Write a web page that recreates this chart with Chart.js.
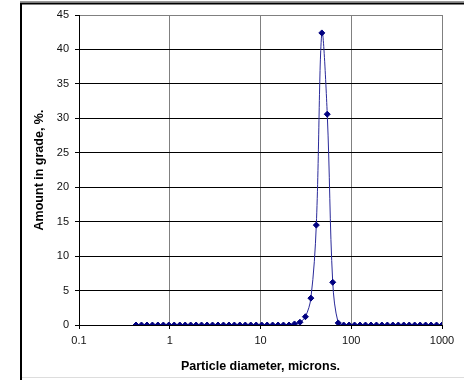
<!DOCTYPE html>
<html>
<head>
<meta charset="utf-8">
<script src="https://cdn.jsdelivr.net/npm/chart.js@4.4.1/dist/chart.umd.min.js"></script>
<style>
  html, body { margin: 0; padding: 0; background: #fff; }
  #wrap { width: 464px; height: 380px; position: relative; }
</style>
</head>
<body>
<div id="wrap"><canvas id="chart" width="464" height="380"></canvas></div>
<script>
// particle diameters, microns (log scale)
const diameters = [0.425, 0.488, 0.561, 0.644, 0.740, 0.850, 0.977, 1.12, 1.29, 1.48,
    1.70, 1.953, 2.24, 2.58, 2.96, 3.40, 3.906, 4.49, 5.15, 5.92,
    6.80, 7.81, 8.97, 10.31, 11.84, 13.6, 15.625, 17.9, 20.6, 23.7,
    27.2, 31.25, 35.9, 41.2, 47.4, 54.4, 62.5, 71.8, 82.5, 94.7,
    108.8, 125, 143.6, 164.9, 189.5, 217.6, 250, 287.2, 329.9, 378.9,
    435.3, 500, 574.3, 659.8, 757.9, 870.6, 1000];

// amount in grade, %
const amounts = [0, 0, 0, 0, 0, 0, 0, 0, 0, 0,
    0, 0, 0, 0, 0, 0, 0, 0, 0, 0,
    0, 0, 0, 0, 0, 0, 0, 0, 0, 0.15,
    0.4, 1.2, 3.9, 14.5, 42.4, 30.6, 6.2, 0.3, 0, 0,
    0, 0, 0, 0, 0, 0, 0, 0, 0, 0,
    0, 0, 0, 0, 0, 0, 0];

const xTicks = [0.1, 1, 10, 100, 1000];
const yMax = 45;
const yStep = 5;

const points = diameters.map((d, i) => ({ x: d, y: amounts[i] }));

const frame = {
    id: 'frame',
    beforeDraw(chart) {
        const c = chart.ctx;
        c.save();
        c.fillStyle = '#fff';
        c.fillRect(0, 0, chart.width, chart.height);
        c.strokeStyle = '#999';
        c.lineWidth = 1;
        c.beginPath();
        c.moveTo(20, 1.5);
        c.lineTo(chart.width, 1.5);
        c.stroke();
        c.strokeStyle = '#000';
        c.lineWidth = 2;
        c.beginPath();
        c.moveTo(21, chart.height);
        c.lineTo(21, 3.5);
        c.lineTo(chart.width, 3.5);
        c.stroke();
        c.strokeStyle = '#ddd';
        c.lineWidth = 1;
        c.beginPath();
        c.moveTo(22, chart.height - 2.5);
        c.lineTo(chart.width, chart.height - 2.5);
        c.stroke();
        c.restore();
    }
};

const ctx = document.getElementById('chart').getContext('2d');
new Chart(ctx, {
    type: 'line',
    data: {
        datasets: [{
            label: 'Amount',
            data: points,
            borderColor: '#2a2a9a',
            borderWidth: 1,
            backgroundColor: '#000080',
            pointBackgroundColor: '#000080',
            pointBorderColor: '#000080',
            pointStyle: 'rectRot',
            pointRadius: 3,
            pointBorderWidth: 1,
            tension: 0.35,
            fill: false
        }]
    },
    options: {
        responsive: false,
        animation: false,
        layout: { padding: { left: 0, right: 22, top: 15, bottom: 0 } },
        plugins: {
            legend: { display: false },
            tooltip: { enabled: false }
        },
        scales: {
            x: {
                type: 'logarithmic',
                min: 0.1,
                max: 1000,
                afterBuildTicks: (scale) => {
                    scale.ticks = xTicks.map(v => ({ value: v }));
                },
                afterFit: (scale) => { scale.height = 55; },
                grid: {
                    color: (c) => c.tick && c.tick.value === 0.1 ? '#000' : '#808080',
                    tickColor: '#000',
                    tickLength: 4,
                    lineWidth: 1
                },
                border: { color: '#000', width: 1 },
                ticks: {
                    color: '#111',
                    font: { family: 'Liberation Sans', size: 11 },
                    padding: 5,
                    maxRotation: 0,
                    autoSkip: false,
                    callback: (v) => String(v)
                },
                title: {
                    display: true,
                    text: 'Particle diameter, microns.',
                    color: '#000',
                    font: { family: 'Liberation Sans', size: 12.5, weight: 'bold' },
                    padding: { top: 0, bottom: 6 }
                }
            },
            y: {
                min: 0,
                max: yMax,
                afterFit: (scale) => { scale.width = 79; },
                grid: {
                    color: (c) => c.tick && c.tick.value === yMax ? '#808080' : '#000',
                    tickColor: '#000',
                    tickLength: 4,
                    lineWidth: 1
                },
                border: { color: '#000', width: 1 },
                ticks: {
                    stepSize: yStep,
                    color: '#111',
                    font: { family: 'Liberation Sans', size: 11 },
                    padding: 6
                },
                title: {
                    display: true,
                    text: 'Amount in grade, %.',
                    color: '#000',
                    font: { family: 'Liberation Sans', size: 12.5, weight: 'bold' },
                    padding: { top: 32, bottom: 0 }
                }
            }
        }
    },
    plugins: [frame]
});
</script>
</body>
</html>
